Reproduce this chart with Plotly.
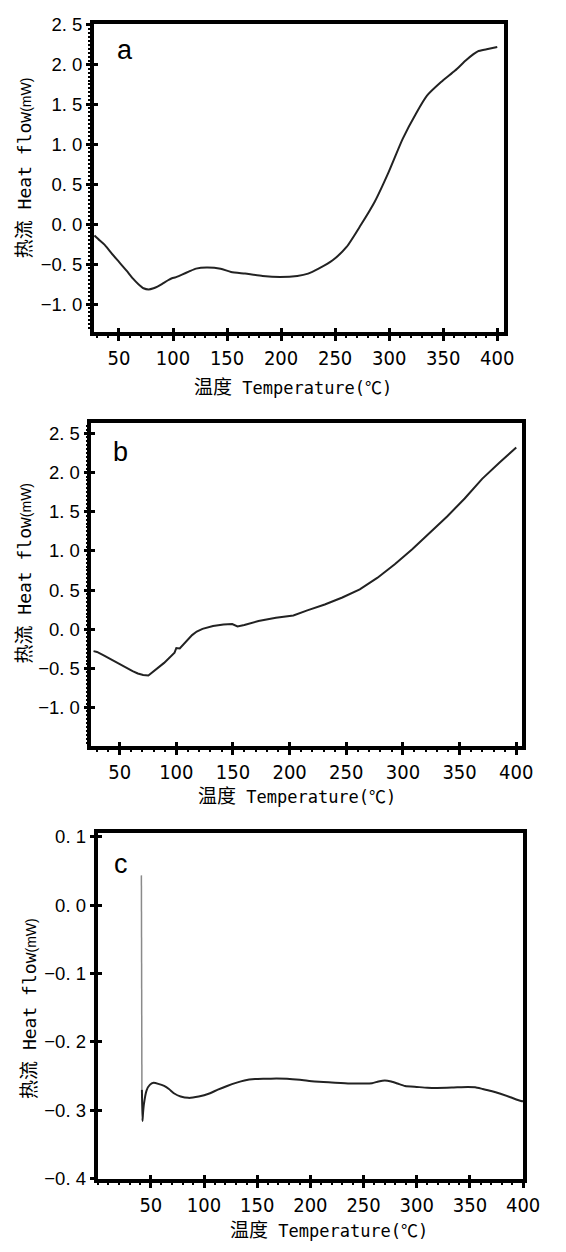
import plotly.graph_objects as go

W, H = 566, 1252

# ---------------- data ----------------
# Panel a
a_temp = [27.3, 32, 37, 43, 50, 57, 63, 68, 72.7, 77.5, 82, 85.6, 90, 95.4, 99, 101.8, 104, 108.3, 115, 121.3, 131,
          144, 153.7, 166.7, 182.9, 199, 215, 225, 234.7, 247.7, 260.6, 273.6, 286.5, 299.5, 312.5, 325.4,
          335, 348, 361, 370.8, 378, 382, 390.2, 400]
a_flow = [-0.14, -0.20, -0.26, -0.36, -0.47, -0.58, -0.68, -0.75, -0.80, -0.815, -0.80, -0.78, -0.745, -0.70, -0.675, -0.665,
          -0.655, -0.63, -0.59, -0.555, -0.54, -0.555, -0.596, -0.617, -0.646, -0.658, -0.646, -0.617, -0.555,
          -0.45, -0.283, -0.0125, 0.28, 0.654, 1.07, 1.40, 1.61, 1.78, 1.925, 2.05, 2.13, 2.165, 2.19, 2.22]

# Panel b
b_temp = [26.9, 30, 36.7, 43, 49, 55, 61.4, 66, 70.7, 75.3, 80, 89.2, 98.4, 100, 103, 104.6, 109, 113.9, 118, 123.1,
          132.4, 141.6, 149.3, 152, 154, 160, 172.5, 187.9, 203.3, 215.6, 231, 246.5, 261.9, 277.3, 292.8,
          308.2, 323.6, 339, 354.5, 369.9, 385.3, 400]
b_flow = [-0.28, -0.29, -0.34, -0.39, -0.44, -0.49, -0.535, -0.565, -0.585, -0.59, -0.535, -0.43, -0.30, -0.24, -0.245,
          -0.22, -0.15, -0.075, -0.03, 0.005, 0.04, 0.06, 0.065, 0.05, 0.035, 0.055, 0.105, 0.145, 0.175,
          0.24, 0.315, 0.405, 0.51, 0.655, 0.83, 1.02, 1.23, 1.44, 1.67, 1.92, 2.13, 2.32]

# Panel c : initial spike (grey) and main curve
c_spike_temp = [41.1, 41.3, 41.6]
c_spike_flow = [0.0435, -0.10, -0.27]
c_temp = [41.6, 42.1, 42.6, 43.4, 46, 49, 52.6, 57, 62.5, 67, 72, 78, 85.5, 95, 105, 113, 121.7, 130, 138, 148, 158, 168,
          178, 190, 204, 220, 237, 250, 258, 264, 270, 276, 282, 289, 300, 310, 319, 333, 348, 355, 362, 370,
          378, 388, 398, 400]
c_flow = [-0.27, -0.316, -0.305, -0.292, -0.271, -0.263, -0.260, -0.2615, -0.2646, -0.269, -0.2756, -0.280, -0.282, -0.280, -0.2756,
          -0.270, -0.2646, -0.260, -0.2565, -0.2545, -0.254, -0.2535, -0.254, -0.2555, -0.258, -0.2595,
          -0.261, -0.261, -0.2605, -0.258, -0.2565, -0.258, -0.261, -0.2646, -0.266, -0.2672, -0.2675, -0.267,
          -0.266, -0.2665, -0.269, -0.272, -0.2756, -0.281, -0.2866, -0.287]

# ticks
x_ticks = [50, 100, 150, 200, 250, 300, 350, 400]
x_ticklabels = ["50", "100", "150", "200", "250", "300", "350", "400"]
ab_yticks = [-1.0, -0.5, 0.0, 0.5, 1.0, 1.5, 2.0, 2.5]
ab_yticklabels = ["\u22121. 0", "\u22120. 5", "0. 0", "0. 5", "1. 0", "1. 5", "2. 0", "2. 5"]
c_yticks = [-0.4, -0.3, -0.2, -0.1, 0.0, 0.1]
c_yticklabels = ["\u22120. 4", "\u22120. 3", "\u22120. 2", "\u22120. 1", "0. 0", "0. 1"]

panel_letters = ["a", "b", "c"]
x_title = '<span style="font-family:Noto Sans CJK SC;font-size:19px">温度</span> Temperature(℃)'
y_title = ('<span style="font-family:Noto Sans CJK SC;font-size:19px">热流</span> Heat flow'
           '<span style="font-family:Liberation Sans;font-size:14px">(mW)</span>')

# ---------------- layout helpers ----------------
def px_x(p):
    return p / W

def px_y(p):
    return 1 - p / H

# pixel boxes (left, right, top, bottom)
boxes = [
    (96.7, 520.0, 14.0, 327.0),
    (94.2, 538.3, 420.0, 748.3),
    (100.7, 539.3, 836.7, 1187.5),
]
xranges = [[26.7, 406.6], [25.0, 405.2], [0.0, 400.0]]
yranges = [[-1.345, 2.51], [-1.496, 2.63], [-0.4, 0.105]]
line_w = [3.5, 3.5, 4]
ymins = [0.05, 0.05, None]

LINE = "#222222"
MONO = "DejaVu Sans Mono, Noto Sans CJK SC, monospace"
NARROW = "Liberation Sans Narrow, DejaVu Sans Condensed, Arial Narrow, sans-serif"
SANS = "Liberation Sans, Arial, sans-serif"

fig = go.Figure()

fig.add_trace(go.Scatter(x=a_temp, y=a_flow, mode="lines", xaxis="x", yaxis="y",
                         line=dict(color=LINE, width=2, shape="spline", smoothing=0.6), showlegend=False))
fig.add_trace(go.Scatter(x=b_temp, y=b_flow, mode="lines", xaxis="x2", yaxis="y2",
                         line=dict(color=LINE, width=2), showlegend=False))
fig.add_trace(go.Scatter(x=c_spike_temp, y=c_spike_flow, mode="lines", xaxis="x3", yaxis="y3",
                         line=dict(color="#8a8a8a", width=1.5), showlegend=False))
fig.add_trace(go.Scatter(x=c_temp, y=c_flow, mode="lines", xaxis="x3", yaxis="y3",
                         line=dict(color=LINE, width=2, shape="spline", smoothing=0.5), showlegend=False))

layout = dict(width=W, height=H, margin=dict(l=0, r=0, t=0, b=0),
              paper_bgcolor="white", plot_bgcolor="white",
              font=dict(family=MONO, color="black"), annotations=[])

for i, (l, r, t, b) in enumerate(boxes):
    sx = "" if i == 0 else str(i + 1)
    ox = str(i + 4)  # overlay axes for the inner half of crossing ticks
    xa = dict(domain=[px_x(l), px_x(r)], range=xranges[i], anchor="y" + sx,
              showline=True, linewidth=line_w[i], linecolor="black", mirror=True,
              showgrid=False, zeroline=False,
              ticks="outside", ticklen=5, tickwidth=2.5, tickcolor="black",
              tickvals=x_ticks, ticktext=x_ticklabels,
              tickfont=dict(family=NARROW, size=20, color="black"),
              minor=dict(dtick=10, ticks="outside", ticklen=2, tickwidth=1.5, tickcolor="black"))
    if i == 2:
        yv, yt = c_yticks, c_yticklabels
    else:
        yv, yt = ab_yticks, ab_yticklabels
    ya = dict(domain=[px_y(b), px_y(t)], range=yranges[i], anchor="x" + sx,
              showline=True, linewidth=line_w[i], linecolor="black", mirror=True,
              showgrid=False, zeroline=False,
              ticks="outside", ticklen=4, tickwidth=2.5, tickcolor="black",
              tickvals=yv, ticktext=yt,
              tickfont=dict(family=SANS, size=18.5, color="black"))
    if ymins[i]:
        ya["minor"] = dict(dtick=ymins[i], ticks="outside", ticklen=2, tickwidth=1.5, tickcolor="black")
    layout["xaxis" + sx] = xa
    layout["yaxis" + sx] = ya
    # inner tick overlays
    layout["xaxis" + ox] = dict(overlaying="x" + sx, anchor="y" + sx, side="bottom", range=xranges[i],
                                domain=[px_x(l), px_x(r)],
                                showline=False, showgrid=False, zeroline=False, showticklabels=False,
                                ticks="inside", ticklen=4, tickwidth=2.5, tickcolor="black", tickvals=x_ticks)
    layout["yaxis" + ox] = dict(overlaying="y" + sx, anchor="x" + sx, side="left", range=yranges[i],
                                domain=[px_y(b), px_y(t)],
                                showline=False, showgrid=False, zeroline=False, showticklabels=False,
                                ticks="inside", ticklen=4, tickwidth=2.5, tickcolor="black", tickvals=yv)
    fig.add_trace(go.Scatter(x=[], y=[], xaxis="x" + ox, yaxis="y" + sx, showlegend=False, hoverinfo="skip"))
    fig.add_trace(go.Scatter(x=[], y=[], xaxis="x" + sx, yaxis="y" + ox, showlegend=False, hoverinfo="skip"))

# titles & panel letters (pixel positions)
xt_pos = [(302, 382), (306, 797), (339, 1238.5)]
yt_pos = [(23.5, 160), (23.4, 572), (29, 1015)]
letter_pos = [(128.5, 41), (124, 448.7), (125, 867.7)]
for i in range(3):
    layout["annotations"].append(dict(text=x_title, xref="paper", yref="paper",
                                      x=px_x(xt_pos[i][0]), y=px_y(xt_pos[i][1]),
                                      xanchor="center", yanchor="middle", showarrow=False,
                                      font=dict(family=MONO, size=17, color="black")))
    layout["annotations"].append(dict(text=y_title, xref="paper", yref="paper",
                                      x=px_x(yt_pos[i][0]), y=px_y(yt_pos[i][1]),
                                      xanchor="center", yanchor="middle", showarrow=False, textangle=-90,
                                      font=dict(family=MONO, size=18, color="black")))
    layout["annotations"].append(dict(text=panel_letters[i], xref="paper", yref="paper",
                                      x=px_x(letter_pos[i][0]), y=px_y(letter_pos[i][1]),
                                      xanchor="center", yanchor="middle", showarrow=False,
                                      font=dict(family=SANS, size=27, color="black")))

fig.update_layout(**layout)
fig.write_html("out.html")
